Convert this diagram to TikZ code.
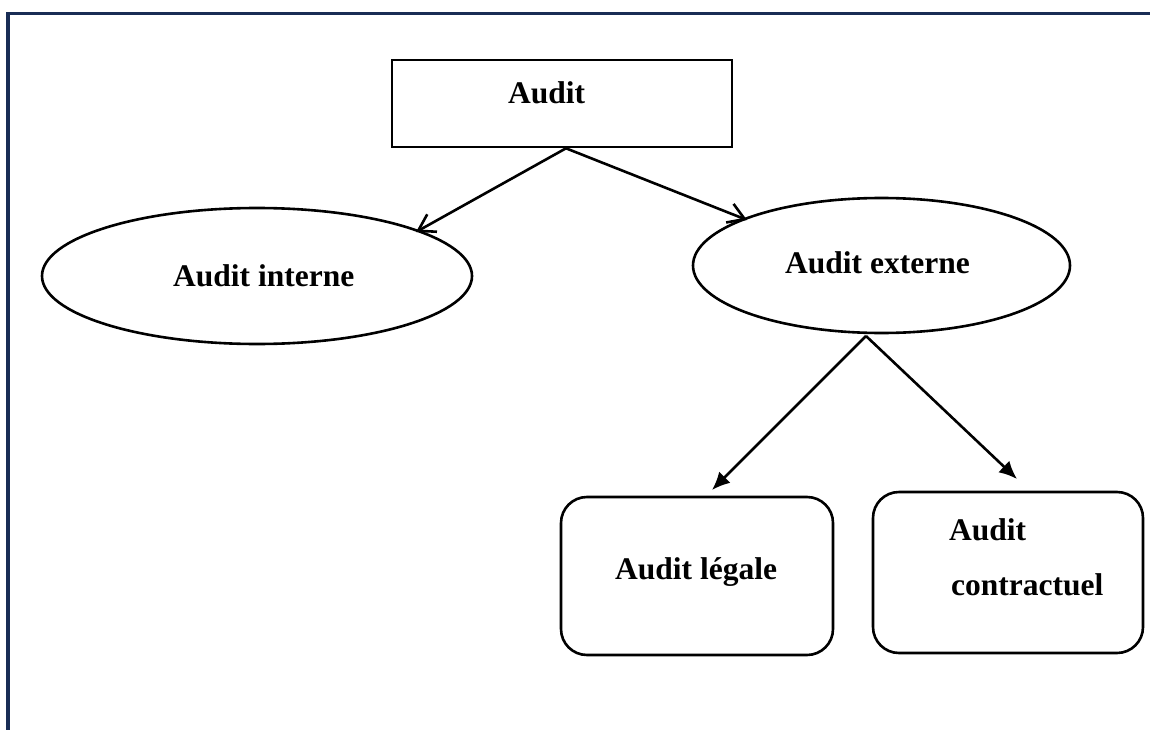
\documentclass[tikz,border=0pt]{standalone}
\usepackage{fontspec}
\setmainfont{Liberation Serif}
\usetikzlibrary{shapes.geometric,arrows.meta}
\definecolor{framenavy}{RGB}{25,45,85}
\tikzset{
  shapeline/.style={draw=black, line width=2.6pt, inner sep=0pt},
  rectbox/.style={shapeline, rectangle, minimum width=340pt, minimum height=87pt},
  ovalbox/.style={shapeline, ellipse},
  roundbox/.style={shapeline, rectangle, rounded corners=26pt},
  lbl/.style={anchor=base west, inner sep=0pt, font=\fontsize{31.5}{38}\selectfont\bfseries},
  openarrow/.style={line width=2.6pt, -{Straight Barb[length=16pt,width=20pt]}},
  fillarrow/.style={line width=2.6pt, -{Latex[length=18pt,width=16pt]}},
}
\begin{document}
\begin{tikzpicture}[x=1pt,y=-1pt]
\useasboundingbox (0,0) rectangle (1150,730);
% frame
\draw[framenavy, line width=3.5pt] (8,730) -- (8,13.5) -- (1150,13.5);
% shapes
\node[rectbox] (audit) at (562,103.5) {};
\node[ovalbox, minimum width=430pt, minimum height=136pt] (interne) at (257,276) {};
\node[ovalbox, minimum width=377pt, minimum height=135pt] (externe) at (881.5,265.5) {};
\node[roundbox, minimum width=272pt, minimum height=158pt] (legale) at (697,576) {};
\node[roundbox, minimum width=270pt, minimum height=161pt] (contract) at (1008,572.5) {};
% labels
\node[lbl] (tAudit) at (508,104) {Audit};
\node[lbl] (tInterne) at (173,286) {Audit interne};
\node[lbl] (tExterne) at (785,273) {Audit externe};
\node[lbl] (tLegale) at (615,579) {Audit légale};
\node[lbl] (tContA) at (949,540) {Audit};
\node[lbl] (tContB) at (951,595) {contractuel};
% connector end points
\coordinate (s1) at (566,147);
\coordinate (e1) at (416,232);
\coordinate (e2) at (747,220);
\coordinate (s2) at (866,336);
\coordinate (e3) at (712,490);
\coordinate (e4) at (1017,479);
% connectors
\draw[openarrow] (audit.south -| s1) -- (e1);
\draw[openarrow] (audit.south -| s1) -- (e2);
\draw[fillarrow] (s2) -- (e3);
\draw[fillarrow] (s2) -- (e4);
\end{tikzpicture}
\end{document}
